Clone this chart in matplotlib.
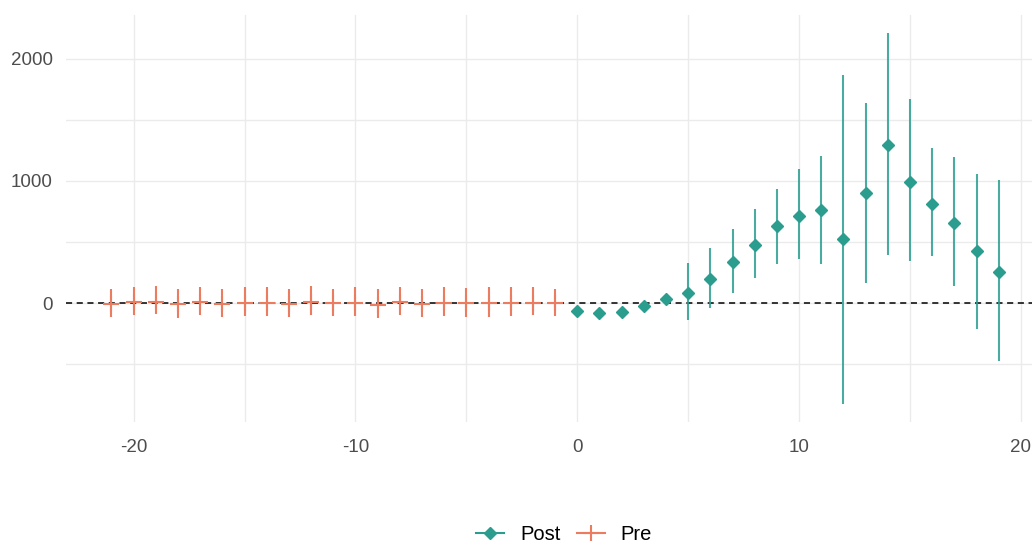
import numpy as np
import matplotlib.pyplot as plt
from matplotlib.lines import Line2D

plt.rcParams['font.family'] = ['Liberation Sans', 'DejaVu Sans']
plt.rcParams['axes.unicode_minus'] = False

# event-study style estimates
pre_x = list(range(-21, 0))
pre_est = [-11, 6, 8, -8, 8, -11, -3, 0, -8, 8, -3, 0, -14, 8, -8, 0, 0, 0, 0, 0, 0]
pre_lo = [-115, -99, -87, -126, -99, -115, -104, -110, -115, -99, -104, -104, -126, -99, -115, -104, -115, -115, -104, -99, -104]
pre_hi = [115, 131, 142, 115, 131, 115, 131, 131, 115, 142, 115, 131, 115, 131, 115, 131, 122, 131, 131, 131, 115]

post_x = list(range(0, 20))
post_est = [-63, -85, -71, -25, 33, 84, 194, 339, 473, 631, 716, 765, 522, 899, 1298, 994, 814, 656, 424, 254]
post_lo = [-80, -100, -88, -42, 15, -139, -43, 79, 202, 320, 358, 320, -831, 164, 393, 347, 383, 139, -216, -478]
post_hi = [-46, -70, -54, -8, 51, 330, 453, 609, 768, 937, 1096, 1208, 1872, 1642, 2216, 1670, 1268, 1194, 1060, 1011]

teal = "#2a9d8f"
salmon = "#ec7c5f"
grid_c = "#ebebeb"
txt_c = "#4d4d4d"

fig = plt.figure(figsize=(10.32, 5.46), dpi=100)
ax = fig.add_axes([66 / 1032, 1 - 422 / 546, 1 - 66 / 1032, (422 - 15) / 546])

ax.axhline(0, color="black", lw=1.1, ls=(0, (4, 3)), zorder=2)

ax.vlines(pre_x, pre_lo, pre_hi, color=salmon, lw=1.5, zorder=3)
ax.plot(pre_x, pre_est, ls="none", marker="+", ms=12, mew=1.5, color=salmon, zorder=3)

ax.vlines(post_x, post_lo, post_hi, color=teal, lw=1.5, alpha=0.85, zorder=3)
ax.plot(post_x, post_est, ls="none", marker="D", ms=6.3, color=teal, zorder=4)

ax.set_xlim(-23.05, 20.5)
ax.set_ylim(-975, 2360)
ax.set_xticks([-20, -10, 0, 10, 20])
ax.set_xticks([-15, -5, 5, 15], minor=True)
ax.set_yticks([0, 1000, 2000])
ax.set_yticks([-500, 500, 1500], minor=True)
ax.grid(True, which="both", color=grid_c, lw=1.0)
ax.set_axisbelow(True)
for s in ax.spines.values():
    s.set_visible(False)
ax.tick_params(which="both", length=0, colors=txt_c, labelsize=13.5)
ax.tick_params(axis="x", pad=12)
ax.tick_params(axis="y", pad=9.5)

handles = [
    Line2D([], [], color=teal, marker="D", ms=6.3, lw=1.5),
    Line2D([], [], color=salmon, marker="+", ms=12, mew=1.5, lw=1.5),
]
fig.legend(handles, ["Post", "Pre"], loc="lower center", bbox_to_anchor=(564 / 1032, -0.03),
           ncol=2, frameon=False, fontsize=14.5, handlelength=1.4, columnspacing=0.8,
           handletextpad=0.8)

fig.savefig("out.png", dpi=100)
